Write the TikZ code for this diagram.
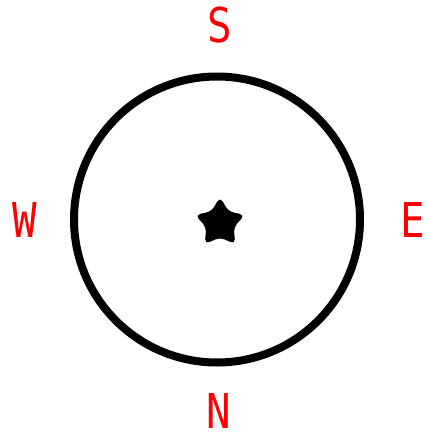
\documentclass[tikz,border=0pt]{standalone}
\usepackage{fontspec}
\setmonofont{DejaVu Sans Mono}
\usetikzlibrary{shapes.geometric}
\begin{document}
\begin{tikzpicture}[x=1pt, y=-1pt, line cap=round, line join=round]
			
			% Bounding box (pixel grid of the reference)
			\def\xmax{427} \def\ymax{440}
			\useasboundingbox (0,0) rectangle (\xmax,\ymax);
			
			% Direction labels
			\tikzset{dirlabel/.style={text=red, inner sep=0pt, xscale=0.85,
					text height=35pt, text depth=0pt,
					font=\ttfamily\fontsize{48}{48}\selectfont}}
			
			% Dial
			\draw[line width=8pt] (217,219.5) circle (143);
			
			% Centre star
			\node[star, star points=5, star point ratio=1.8, minimum size=52pt,
			inner sep=0pt, fill=black, rounded corners=5pt] (pin) at (220,223) {};
			
			% Labels round the dial
			\node[dirlabel] (S) at (220,25) {S};
			\node[dirlabel] (W) at (25,220) {W};
			\node[dirlabel] (E) at (413,220) {E};
			\node[dirlabel] (N) at (219,411) {N};
			
		\end{tikzpicture}
\end{document}
